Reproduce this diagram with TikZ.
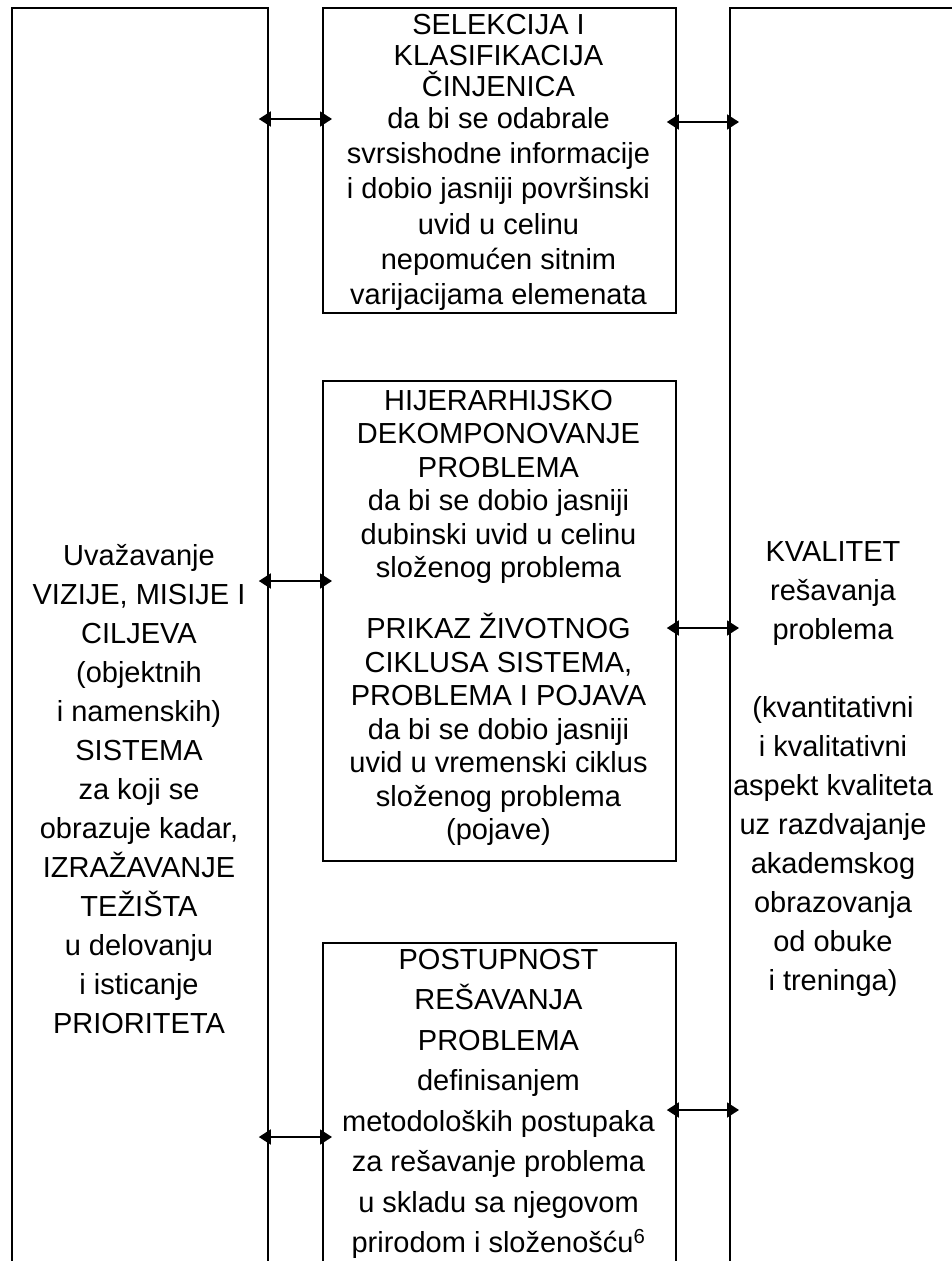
\documentclass[tikz,border=0pt]{standalone}
\usepackage{fontspec}
\setmainfont{Liberation Sans}
\usetikzlibrary{arrows.meta}
\begin{document}
\begin{tikzpicture}[x=1pt,y=-1pt,
  boxframe/.style={draw, line width=1.8pt, rectangle, inner sep=0pt, anchor=north west},
  lbl/.style={align=center, inner sep=0pt},
  sp31/.style={font=\fontsize{29}{31.3}\selectfont},
  sp33/.style={font=\fontsize{29}{33.5}\selectfont},
  sp39/.style={font=\fontsize{29}{39}\selectfont},
  sp40/.style={font=\fontsize{29}{40.5}\selectfont},
  link/.style={{Triangle[length=12pt,width=15pt]}-{Triangle[length=12pt,width=15pt]}, line width=1.8pt, shorten <=-10pt, shorten >=-10pt}]
\useasboundingbox (0,0) rectangle (952,1261);
\clip (0,0) rectangle (952,1261);
% frames
\node[boxframe, minimum width=256pt, minimum height=1300pt] (L) at (11,7) {};
\node[boxframe, minimum width=353pt, minimum height=305pt] (B1) at (322,7) {};
\node[boxframe, minimum width=353pt, minimum height=480pt] (B2) at (322,380) {};
\node[boxframe, minimum width=353pt, minimum height=400pt] (B3) at (322,942) {};
\node[boxframe, minimum width=300pt, minimum height=1300pt] (R) at (729,7) {};
% texts
\node[lbl, sp31] (t1) at (498.5,162.3) {SELEKCIJA I\\KLASIFIKACIJA\\ČINJENICA\\da bi se odabrale\\[4pt]svrsishodne informacije\\[4pt]i dobio jasniji površinski\\[4pt]uvid u celinu\\[4pt]nepomućen sitnim\\[4pt]varijacijama elemenata};
\node[lbl, sp33] (t2) at (498.5,618) {HIJERARHIJSKO\\DEKOMPONOVANJE\\PROBLEMA\\da bi se dobio jasniji\\dubinski uvid u celinu\\složenog problema\\[27.5pt]PRIKAZ ŽIVOTNOG\\CIKLUSA SISTEMA,\\PROBLEMA I POJAVA\\da bi se dobio jasniji\\uvid u vremenski ciklus\\složenog problema\\(pojave)};
\node[lbl, sp40] (t3) at (498.5,1104) {POSTUPNOST\\REŠAVANJA\\PROBLEMA\\definisanjem\\metodoloških postupaka\\za rešavanje problema\\u skladu sa njegovom\\prirodom i složenošću\textsuperscript{6}};
\node[lbl, sp39] (tL) at (139,789) {Uvažavanje\\VIZIJE, MISIJE I\\CILJEVA\\(objektnih\\i namenskih)\\SISTEMA\\za koji se\\obrazuje kadar,\\IZRAŽAVANJE\\TEŽIŠTA\\u delovanju\\i isticanje\\PRIORITETA};
\node[lbl, sp39] (tR) at (833,769) {KVALITET\\rešavanja\\problema\\[39pt](kvantitativni\\i kvalitativni\\aspekt kvaliteta\\uz razdvajanje\\akademskog\\obrazovanja\\od obuke\\i treninga)};
% connectors
\draw[link] (L.east |- 0,119) -- (B1.west |- 0,119);
\draw[link] (B1.east |- 0,122) -- (R.west |- 0,122);
\draw[link] (L.east |- 0,581) -- (B2.west |- 0,581);
\draw[link] (B2.east |- 0,628) -- (R.west |- 0,628);
\draw[link] (L.east |- 0,1137) -- (B3.west |- 0,1137);
\draw[link] (B3.east |- 0,1110) -- (R.west |- 0,1110);
\end{tikzpicture}
\end{document}
